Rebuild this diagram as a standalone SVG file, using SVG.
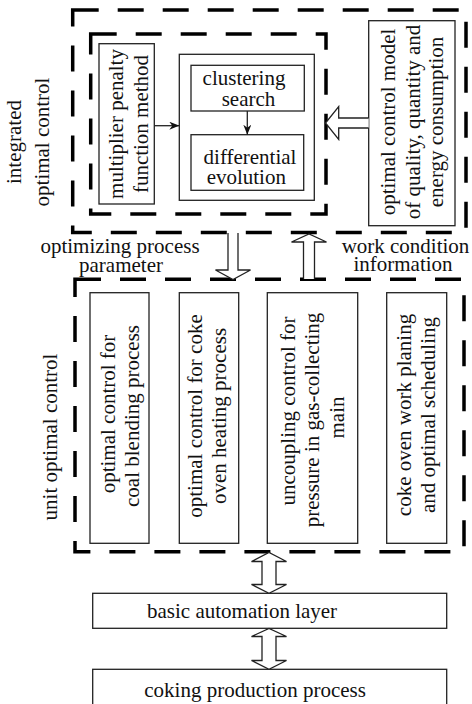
<svg xmlns="http://www.w3.org/2000/svg" width="472" height="704" viewBox="0 0 472 704">
<style>
 .t{font-family:"Liberation Serif","Times New Roman",serif;font-size:21px;fill:#111}
 .m{text-anchor:middle}
 .box{fill:#fff;stroke:#222;stroke-width:1.3}
 .dash{fill:none;stroke:#000;stroke-width:3.5;stroke-dasharray:26 19}
 .hollow{fill:#fff;stroke:#222;stroke-width:1.3;stroke-linejoin:miter}
 .thin{stroke:#222;stroke-width:1.3;fill:none}
</style>
<defs>
 <marker id="ah" viewBox="0 0 10 8" refX="10" refY="4" markerWidth="10" markerHeight="8" markerUnits="userSpaceOnUse" orient="auto">
  <path d="M0,0 L10,4 L0,8 L3,4 Z" fill="#111"/>
 </marker>
</defs>
<rect width="472" height="704" fill="#fff"/>

<g id="integrated">
 <rect class="dash" x="72.7" y="10" width="393.3" height="222.5"/>
 <text class="t m" transform="translate(21,142) rotate(-90)">integrated</text>
 <text class="t m" transform="translate(49,142) rotate(-90)">optimal control</text>
</g>
<g id="optimizer">
 <rect class="dash" x="90.7" y="34" width="235.3" height="180"/>
</g>
<g id="multiplier">
 <rect class="box" x="99" y="43.7" width="55.3" height="160.3"/>
 <text class="t m" transform="translate(122.5,124) rotate(-90)">multiplier penalty</text>
 <text class="t m" transform="translate(148,124) rotate(-90)">function method</text>
</g>
<g id="search-core">
 <rect class="box" x="179.3" y="54.3" width="135" height="146"/>
</g>
<g id="clustering">
 <rect class="box" x="191" y="65.3" width="113.3" height="45.7"/>
 <text class="t m" x="244" y="85">clustering</text>
 <text class="t m" x="248.5" y="105.5">search</text>
</g>
<g id="differential">
 <rect class="box" x="191" y="134.7" width="112.7" height="55.6"/>
 <text class="t m" x="250" y="163.5">differential</text>
 <text class="t m" x="246.3" y="183.5">evolution</text>
</g>
<g id="model">
 <rect class="box" x="368.7" y="20.7" width="86.3" height="205"/>
 <text class="t m" transform="translate(395,122) rotate(-90)">optimal control model</text>
 <text class="t m" transform="translate(419.5,122) rotate(-90)">of quality, quantity and</text>
 <text class="t m" transform="translate(443,122) rotate(-90)">energy consumption</text>
</g>

<g id="unit">
 <rect class="dash" x="75" y="279.3" width="389" height="272.4"/>
 <text class="t m" transform="translate(57,437) rotate(-90)">unit optimal control</text>
</g>
<g id="coal">
 <rect class="box" x="90" y="292.7" width="59" height="250.6"/>
 <text class="t m" transform="translate(115,414) rotate(-90)">optimal control for</text>
 <text class="t m" transform="translate(138.5,416) rotate(-90)">coal blending process</text>
</g>
<g id="heating">
 <rect class="box" x="179.3" y="292.7" width="59.4" height="250.6"/>
 <text class="t m" transform="translate(201.5,416) rotate(-90)">optimal control for coke</text>
 <text class="t m" transform="translate(225.5,416) rotate(-90)">oven heating process</text>
</g>
<g id="pressure">
 <rect class="box" x="267.3" y="292.7" width="90.4" height="250.6"/>
 <text class="t m" transform="translate(295,411) rotate(-90)">uncoupling control for</text>
 <text class="t m" transform="translate(319,420) rotate(-90)">pressure in gas-collecting</text>
 <text class="t m" transform="translate(344,417.5) rotate(-90)">main</text>
</g>
<g id="scheduling">
 <rect class="box" x="386.7" y="292.7" width="60" height="250.6"/>
 <text class="t m" transform="translate(411,415) rotate(-90)">coke oven work planing</text>
 <text class="t m" transform="translate(435,415) rotate(-90)">and optimal scheduling</text>
</g>

<g id="basic">
 <rect class="box" x="92.7" y="593.3" width="354" height="35"/>
 <text class="t" x="147" y="617.5">basic automation layer</text>
</g>
<g id="coking">
 <rect class="box" x="92.7" y="669.3" width="354" height="40"/>
 <text class="t" x="144.3" y="696.5">coking production process</text>
</g>

<g id="connectors">
 <line class="thin" x1="154.3" y1="125.7" x2="179.3" y2="125.7" marker-end="url(#ah)"/>
 <line class="thin" x1="247.3" y1="111" x2="247.3" y2="134.7" marker-end="url(#ah)"/>
 <path class="hollow" d="M368.7,118 H338.7 V106.5 L325.5,123 L338.7,139.5 V128 H368.7"/>
 <path class="hollow" d="M228,233 V270 H215.5 L233,279.5 L250.5,270 H238 V233"/>
 <path class="hollow" d="M303.5,279 V242 H291.5 L309,234 L326.5,242 H314.5 V279"/>
 <path class="hollow" d="M262,561.5 H251.5 L269,552.5 L286.5,561.5 H276 V584.5 H286.5 L269,593.3 L251.5,584.5 H262 Z"/>
 <path class="hollow" d="M262,636.5 H251.5 L269,628.5 L286.5,636.5 H276 V660.5 H286.5 L269,669.3 L251.5,660.5 H262 Z"/>
 <text class="t m" x="120" y="252.5">optimizing process</text>
 <text class="t m" x="121" y="271.5">parameter</text>
 <text class="t m" x="405.5" y="252.5">work condition</text>
 <text class="t m" x="403" y="271">information</text>
</g>
</svg>
